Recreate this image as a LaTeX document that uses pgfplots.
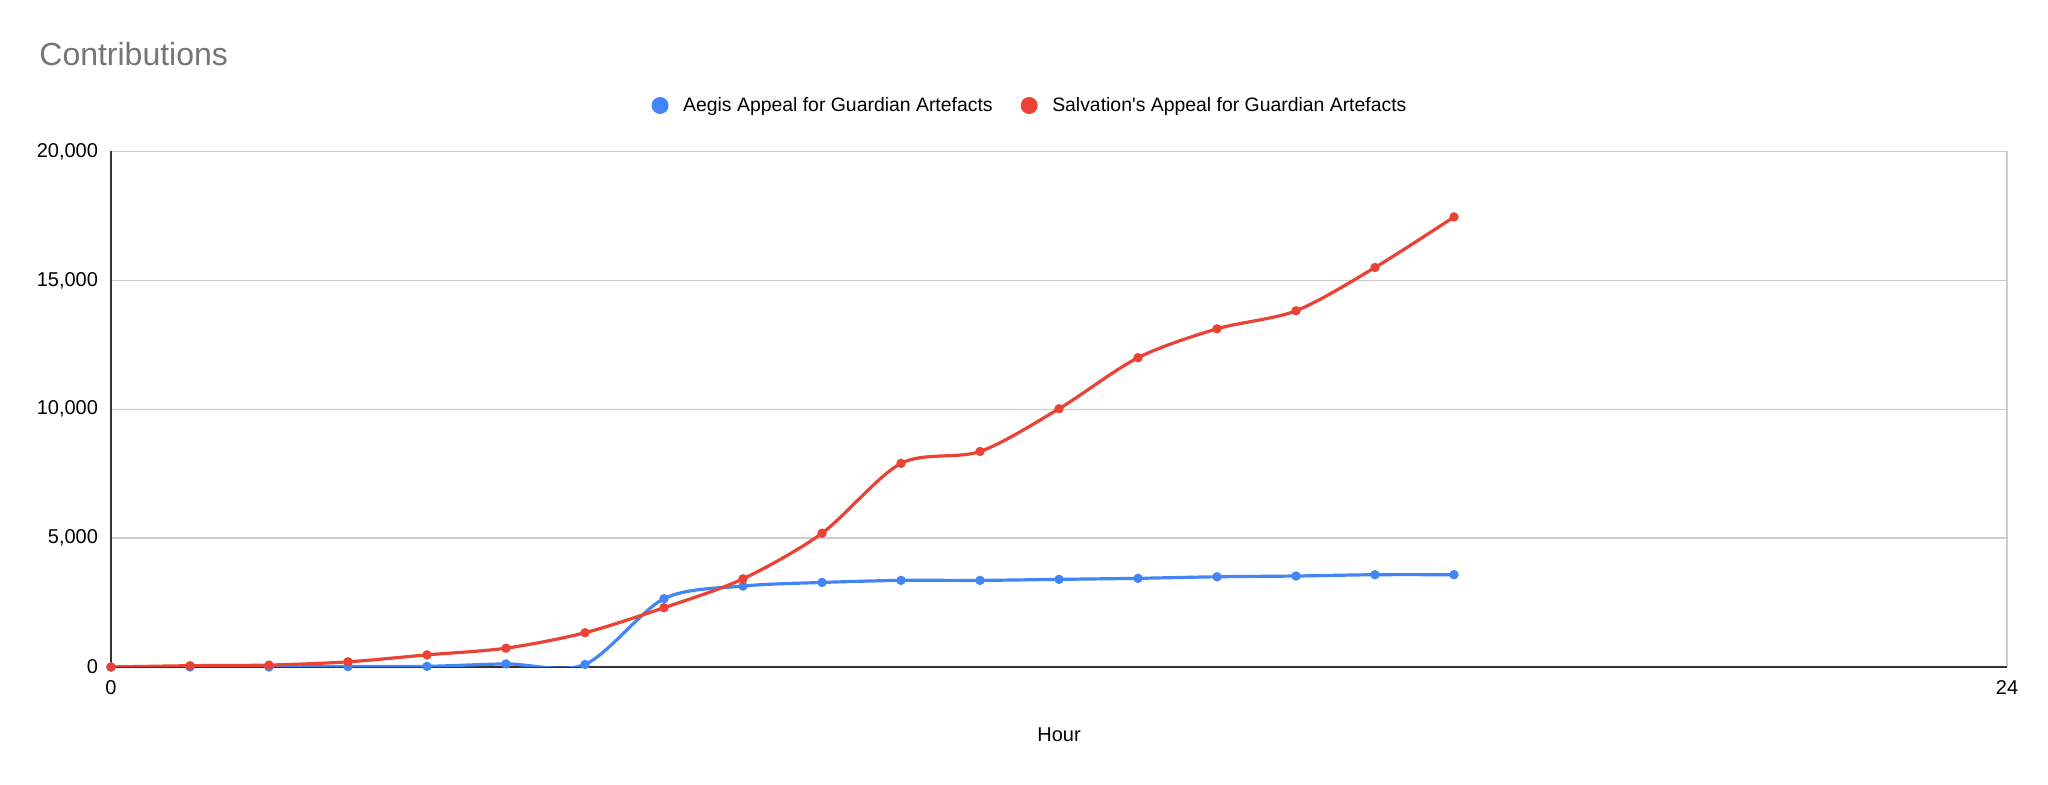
\documentclass[border=0pt]{standalone}
\usepackage{pgfplots}
\pgfplotsset{compat=1.18}
\usepackage{fontspec}
\setmainfont{Liberation Sans}
\definecolor{gblue}{HTML}{4285F4}
\definecolor{gred}{HTML}{EA4335}
\definecolor{gridc}{HTML}{CCCCCC}
\definecolor{titlec}{HTML}{757575}
\definecolor{axc}{HTML}{333333}
\begin{document}
\begin{tikzpicture}
\useasboundingbox (0,0) rectangle (1024pt,392.5pt);
\begin{axis}[
  at={(55.5pt,59pt)}, anchor=south west,
  scale only axis, width=948pt, height=257.75pt,
  xmin=0, xmax=24, ymin=0, ymax=20000,
  xtick={0,24}, ytick={0,5000,10000,15000,20000},
  axis lines=left, axis line style={draw=axc, line width=0.7pt, -},
  xmajorgrids, ymajorgrids, grid style={draw=gridc, line width=0.7pt},
  major tick length=0pt,
  tick label style={font=\fontsize{10}{12}\selectfont},
  /pgf/number format/assume math mode=true,
  /pgf/number format/fixed,
  /pgf/number format/1000 sep={,},
  scaled y ticks=false,
  yticklabel style={xshift=-3pt},
  xticklabel style={yshift=-3pt},
  legend style={at={(0.5,1)}, anchor=center, yshift=23pt, xshift=-14pt,
    draw=none, fill=none, font=\fontsize{9.7}{12}\selectfont,
    /tikz/every even column/.append style={column sep=12pt}},
  legend columns=2,
  legend image code/.code={\fill[#1, draw=none] (0pt,0pt) circle (4.25pt); \path (8.75pt,0pt);},
]
\addplot[gblue, line width=1.6pt, smooth, mark=*, mark size=1.5pt, mark options={solid}] coordinates {
(0,0)(1,0)(2,0)(3,15)(4,25)(5,120)(6,100)(7,2650)(8,3140)(9,3280)(10,3360)(11,3360)(12,3400)(13,3440)(14,3500)(15,3530)(16,3580)(17,3580)};
\addlegendentry{Aegis Appeal for Guardian Artefacts}
\addplot[gred, line width=1.6pt, smooth, mark=*, mark size=1.5pt, mark options={solid}] coordinates {
(0,0)(1,50)(2,75)(3,200)(4,470)(5,730)(6,1330)(7,2300)(8,3420)(9,5190)(10,7900)(11,8360)(12,10020)(13,12000)(14,13120)(15,13820)(16,15500)(17,17460)};
\addlegendentry{Salvation\textquotesingle s Appeal for Guardian Artefacts}
\end{axis}
\node[anchor=west, text=titlec, font=\fontsize{16}{19}\selectfont, inner sep=0pt] at (19.5pt,365.7pt) {Contributions};
\node[font=\fontsize{10}{12}\selectfont] at (529.5pt,25pt) {Hour};
\end{tikzpicture}
\end{document}
